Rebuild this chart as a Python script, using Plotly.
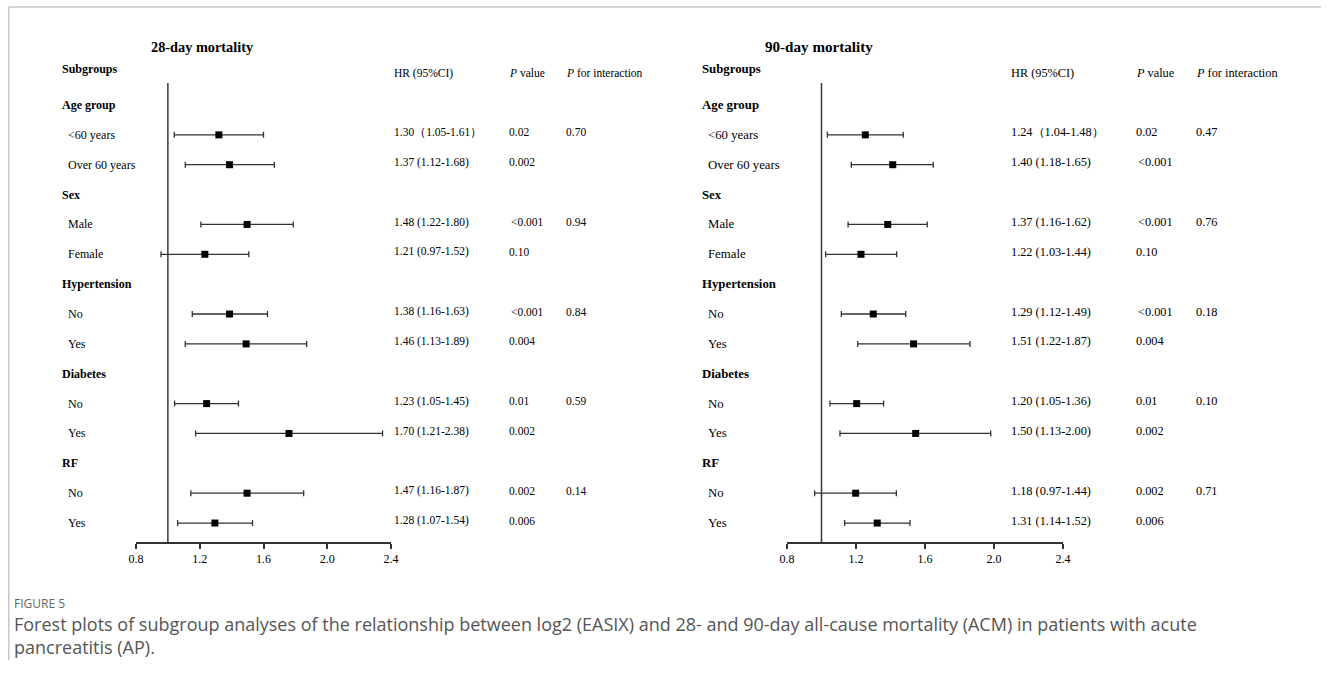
import plotly.graph_objects as go

W, H = 1329, 675
# horizontal placement as observed in the rendered page: x_page = 8 + 1313 * paper_x
X_OFF, X_SPAN = 8, 1313

# ---------------- data ----------------
rows = ["Age group", "<60 years", "Over 60 years", "Sex", "Male", "Female",
        "Hypertension", "No", "Yes", "Diabetes", "No", "Yes", "RF", "No", "Yes"]
is_header = [True, False, False, True, False, False, True, False, False,
             True, False, False, True, False, False]
sub_rows = [2, 3, 5, 6, 8, 9, 11, 12, 14, 15]

# 28-day mortality (positions)
hr28 = [1.32, 1.387, 1.497, 1.232, 1.387, 1.491, 1.243, 1.760, 1.497, 1.295]
lo28 = [1.040, 1.109, 1.207, 0.957, 1.153, 1.109, 1.042, 1.174, 1.144, 1.061]
hi28 = [1.600, 1.668, 1.787, 1.508, 1.625, 1.871, 1.443, 2.347, 1.852, 1.531]
hrtxt28 = ["1.30（1.05-1.61）", "1.37 (1.12-1.68)", "1.48 (1.22-1.80)", "1.21 (0.97-1.52)",
           "1.38 (1.16-1.63)", "1.46 (1.13-1.89)", "1.23 (1.05-1.45)", "1.70 (1.21-2.38)",
           "1.47 (1.16-1.87)", "1.28 (1.07-1.54)"]
p28 = ["0.02", "0.002", "<0.001", "0.10", "<0.001", "0.004", "0.01", "0.002", "0.002", "0.006"]
pint28 = ["0.70", "", "0.94", "", "0.84", "", "0.59", "", "0.14", ""]

# 90-day mortality
hr90 = [1.254, 1.413, 1.384, 1.229, 1.300, 1.534, 1.204, 1.546, 1.198, 1.323]
lo90 = [1.034, 1.173, 1.154, 1.024, 1.115, 1.210, 1.049, 1.107, 0.960, 1.134]
hi90 = [1.474, 1.648, 1.613, 1.436, 1.488, 1.861, 1.360, 1.981, 1.434, 1.513]
hrtxt90 = ["1.24（1.04-1.48）", "1.40 (1.18-1.65)", "1.37 (1.16-1.62)", "1.22 (1.03-1.44)",
           "1.29 (1.12-1.49)", "1.51 (1.22-1.87)", "1.20 (1.05-1.36)", "1.50 (1.13-2.00)",
           "1.18 (0.97-1.44)", "1.31 (1.14-1.52)"]
p90 = ["0.02", "<0.001", "<0.001", "0.10", "<0.001", "0.004", "0.01", "0.002", "0.002", "0.006"]
pint90 = ["0.47", "", "0.76", "", "0.18", "", "0.10", "", "0.71", ""]

tickvals = [0.8, 1.2, 1.6, 2.0, 2.4]
ticktext = ["0.8", "1.2", "1.6", "2.0", "2.4"]

caption_label = "FIGURE 5"
caption_lines = [
    "Forest plots of subgroup analyses of the relationship between log2 (EASIX) "
    "and 28- and 90-day all-cause mortality (ACM) in patients with acute",
    "pancreatitis (AP).",
]

# ---------------- layout helpers ----------------
ROW0_PX, ROW_STEP = 105.0, 29.86


def rpx(py):
    """page y pixel -> row coordinate"""
    return 1 + (py - ROW0_PX) / ROW_STEP


def px(x):
    """page x pixel -> paper fraction"""
    return (x - X_OFF) / X_SPAN


def py_paper(y):
    return (H - y) / H


SERIF = "Liberation Serif, Times New Roman, serif"
fig = go.Figure()

panels = [
    dict(xa="x", hr=hr28, lo=lo28, hi=hi28, hrt=hrtxt28, p=p28, pi=pint28,
         lab_x=60, sub_x=66, hr_x=392, p_x=507, pi_x=564, fs=12,
         title="28-day mortality", title_x=202),
    dict(xa="x2", hr=hr90, lo=lo90, hi=hi90, hrt=hrtxt90, p=p90, pi=pint90,
         lab_x=700, sub_x=706, hr_x=1009, p_x=1134, pi_x=1194, fs=12.8,
         title="90-day mortality", title_x=819),
]

ann = []
for pn in panels:
    # reference line at HR = 1
    fig.add_trace(go.Scatter(x=[1, 1], y=[rpx(83), rpx(543)], mode="lines",
                             line=dict(color="#3a3a3a", width=1.5),
                             xaxis=pn["xa"], yaxis="y", hoverinfo="skip",
                             showlegend=False))
    fig.add_trace(go.Scatter(
        x=pn["hr"], y=sub_rows, mode="markers",
        marker=dict(symbol="square", size=7, color="black"),
        error_x=dict(type="data", symmetric=False,
                     array=[h - m for h, m in zip(pn["hi"], pn["hr"])],
                     arrayminus=[m - l for m, l in zip(pn["hr"], pn["lo"])],
                     color="#333333", thickness=1.3, width=3),
        xaxis=pn["xa"], yaxis="y", showlegend=False))

    fs = pn["fs"]
    ann.append(dict(x=px(pn["title_x"]), y=rpx(47), xref="paper", yref="y",
                    text="<b>%s</b>" % pn["title"], showarrow=False,
                    xanchor="center", yanchor="middle",
                    font=dict(family=SERIF, size=fs + 2.3, color="black")))
    ann.append(dict(x=px(pn["lab_x"]), y=rpx(69), xref="paper", yref="y",
                    text="<b>Subgroups</b>", showarrow=False,
                    xanchor="left", yanchor="middle",
                    font=dict(family=SERIF, size=fs, color="black")))
    for xx, t in [(pn["hr_x"], "HR (95%CI)"), (pn["p_x"], "<i>P</i> value"),
                  (pn["pi_x"], "<i>P</i> for interaction")]:
        ann.append(dict(x=px(xx), y=rpx(73), xref="paper", yref="y", text=t,
                        showarrow=False, xanchor="left", yanchor="middle",
                        font=dict(family=SERIF, size=fs - 0.5, color="black")))
    for i, (lab, hd) in enumerate(zip(rows, is_header)):
        ann.append(dict(x=px(pn["lab_x"] if hd else pn["sub_x"]), y=i + 1,
                        xref="paper", yref="y",
                        text="<b>%s</b>" % lab if hd else lab,
                        showarrow=False, xanchor="left", yanchor="middle",
                        font=dict(family=SERIF, size=fs, color="black")))
    for k, r in enumerate(sub_rows):
        yv = r - 0.08
        ann.append(dict(x=px(pn["hr_x"]), y=yv, xref="paper", yref="y",
                        text=pn["hrt"][k], showarrow=False, xanchor="left",
                        yanchor="middle",
                        font=dict(family=SERIF, size=fs - 0.5, color="black")))
        ann.append(dict(x=px(pn["p_x"] + (2 if pn["p"][k].startswith("<") else 0)),
                        y=yv, xref="paper", yref="y",
                        text=pn["p"][k].replace("<", "&lt;"), showarrow=False,
                        xanchor="left", yanchor="middle",
                        font=dict(family=SERIF, size=fs - 0.5, color="black")))
        if pn["pi"][k]:
            ann.append(dict(x=px(pn["pi_x"]), y=yv, xref="paper", yref="y",
                            text=pn["pi"][k], showarrow=False, xanchor="left",
                            yanchor="middle",
                            font=dict(family=SERIF, size=fs - 0.5, color="black")))

# caption
CAP = "Open Sans, Noto Sans, sans-serif"
ann.append(dict(x=px(12), y=rpx(603), xref="paper", yref="y", text=caption_label,
                showarrow=False, xanchor="left", yanchor="middle",
                font=dict(family=CAP, size=12, color="#666666")))
ann.append(dict(x=px(12), y=rpx(635.5), xref="paper", yref="y",
                text="<br>".join(caption_lines), align="left",
                showarrow=False, xanchor="left", yanchor="middle",
                font=dict(family=CAP, size=18, color="#555555")))

axis_common = dict(range=[0.8, 2.4], tickvals=tickvals, ticktext=ticktext,
                   showline=True, linecolor="#333333", linewidth=1.5,
                   ticks="outside", ticklen=5, tickcolor="#333333", tickwidth=1.5,
                   showgrid=False, zeroline=False,
                   tickfont=dict(family=SERIF, size=12, color="black"),
                   anchor="free", position=py_paper(543), fixedrange=True)

fig.update_layout(
    width=W, height=H, margin=dict(l=0, r=0, t=0, b=0),
    paper_bgcolor="white", plot_bgcolor="rgba(0,0,0,0)",
    xaxis=dict(domain=[px(136), px(391)], **axis_common),
    xaxis2=dict(domain=[px(787), px(1063)], **axis_common),
    yaxis=dict(domain=[0, 1], range=[rpx(H), rpx(0)], visible=False, fixedrange=True),
    annotations=ann,
    shapes=[
        dict(type="line", xref="paper", yref="paper", x0=0.0006, x1=1,
             y0=py_paper(7), y1=py_paper(7), line=dict(color="#c8c8c8", width=1.5)),
        dict(type="line", xref="paper", yref="paper", x0=0.0006, x1=0.0006,
             y0=py_paper(7), y1=py_paper(660), line=dict(color="#c8c8c8", width=1.5)),
    ],
)

fig.write_html("out.html")
